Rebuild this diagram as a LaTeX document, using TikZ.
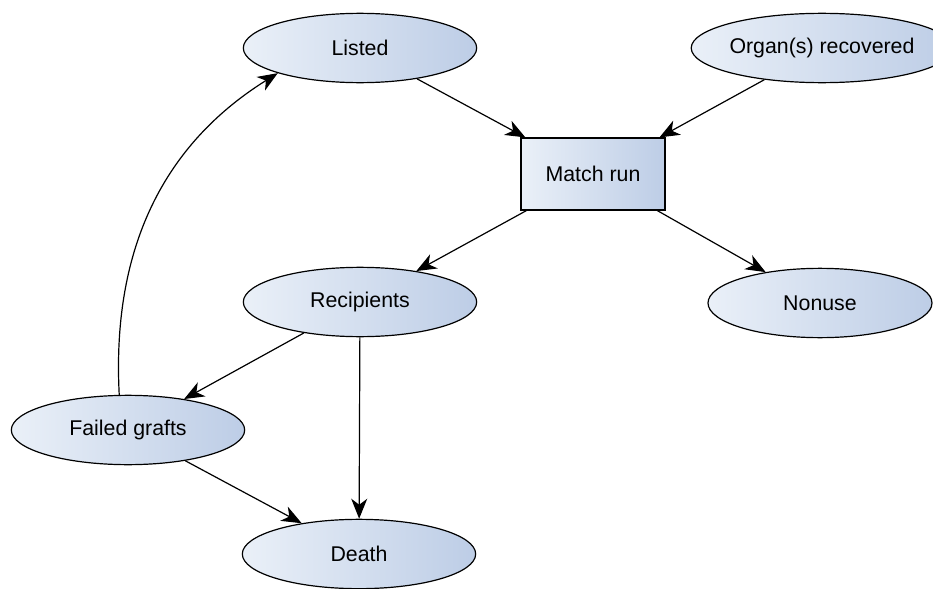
\documentclass[tikz,border=0pt]{standalone}
\usepackage{fontspec}
\setmainfont{Liberation Sans}
\usetikzlibrary{arrows.meta,shapes.geometric}
\definecolor{fillL}{HTML}{EAF0F8}
\definecolor{fillR}{HTML}{BDCDE6}

\begin{document}
\begin{tikzpicture}[x=0.75pt,y=-0.75pt,
	state/.style={ellipse,draw,line width=0.9pt,left color=fillL,right color=fillR,
		minimum width=175pt,minimum height=52pt,inner sep=0pt,font=\fontsize{16}{19}\selectfont},
	box/.style={rectangle,draw,line width=0.9pt,left color=fillL,right color=fillR,
		minimum width=108pt,minimum height=54pt,inner sep=0pt,font=\fontsize{16}{19}\selectfont},
	arr/.style={-{Stealth[length=15pt,width=12pt,inset=4.5pt]},line width=0.9pt}]
	\useasboundingbox (0,0) rectangle (933,589);
	\node[state] at (360,48)(listed){Listed};
	\node[state,minimum width=166pt] at (822,48)(organ){Organ(s) recovered};
	\node[box] at (593,174)(match){Match run};
	\node[state] at (360,302)(recip){Recipients};
	\node[state,minimum width=168pt] at (820,303)(nonuse){Nonuse};
	\node[state] at (128,430)(failed){Failed grafts};
	\node[state] at (359,554)(death){Death};
	\path[arr](listed)edge(match)(organ)edge(match)(match)edge(recip)(match)edge(nonuse);
	\path[arr](recip)edge(failed)(recip)edge(death)(failed)edge(death);
	\path[arr](failed.104)edge[out=93,in=-148](listed.-163);
\end{tikzpicture}
\end{document}
